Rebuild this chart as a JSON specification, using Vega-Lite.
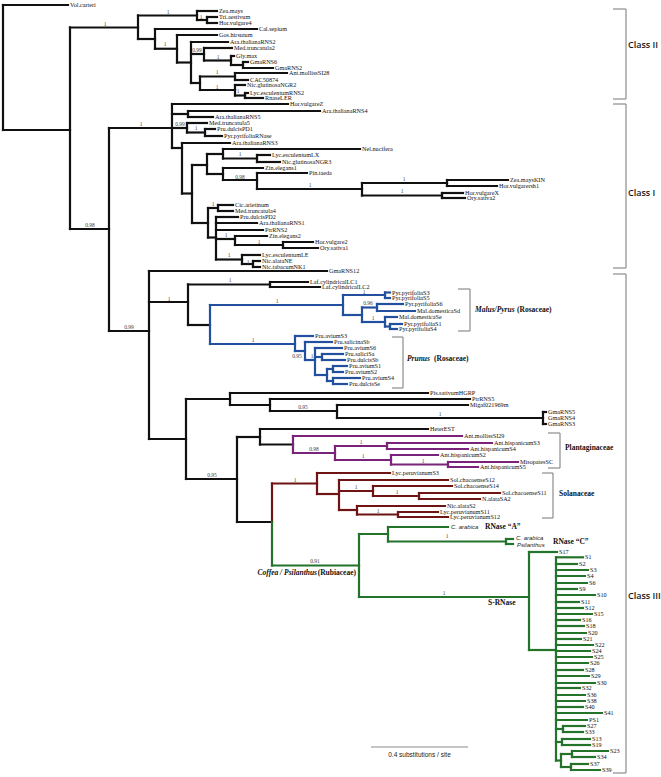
{
"$schema": "https://vega.github.io/schema/vega-lite/v6.json",
"width": 661, "height": 777, "padding": 0,
"autosize": {"type": "fit", "contains": "padding"},
"background": "white",
"config": {"view": {"stroke": null}},
"layer": [
{"data":{"values":[
{"x":613,"x2":626,"y":9,"y2":9},{"x":626,"x2":626,"y":9,"y2":99},{"x":613,"x2":626,"y":99,"y2":99},
{"x":613,"x2":626,"y":104,"y2":104},{"x":626,"x2":626,"y":104,"y2":268},{"x":613,"x2":626,"y":268,"y2":268},
{"x":613,"x2":626,"y":274,"y2":274},{"x":626,"x2":626,"y":274,"y2":773},{"x":613,"x2":626,"y":773,"y2":773},
{"x":458,"x2":470,"y":289,"y2":289},{"x":470,"x2":470,"y":289,"y2":331},{"x":458,"x2":470,"y":331,"y2":331},
{"x":392,"x2":403,"y":337,"y2":337},{"x":403,"x2":403,"y":337,"y2":388},{"x":392,"x2":403,"y":388,"y2":388},
{"x":548,"x2":560,"y":433,"y2":433},{"x":560,"x2":560,"y":433,"y2":468},{"x":548,"x2":560,"y":468,"y2":468},
{"x":542,"x2":553,"y":473,"y2":473},{"x":553,"x2":553,"y":473,"y2":518},{"x":542,"x2":553,"y":518,"y2":518},
{"x":371,"x2":468,"y":747,"y2":747}
]},
 "mark":{"type":"rule","color":"#8c8c8c","strokeWidth":1.2},
 "encoding":{"x":{"field":"x","type":"quantitative","scale":{"domain":[0,661],"nice":false,"zero":false},"axis":null},"x2":{"field":"x2"},
  "y":{"field":"y","type":"quantitative","scale":{"domain":[0,777],"reverse":true,"nice":false,"zero":false},"axis":null},"y2":{"field":"y2"}}},
{"data":{"values":[{"x":419.5,"y":755,"t":"0.4 substitutions / site"}]},
 "mark":{"type":"text","font":"Liberation Sans","fontSize":6.5,"color":"#222222","align":"center","baseline":"middle"},
 "encoding":{"x":{"field":"x","type":"quantitative"},"y":{"field":"y","type":"quantitative"},"text":{"field":"t"}}},
{"data":{"values":[
{"x":3,"x2":68,"y":5,"g":"k"},{"x":3,"x2":70,"y":130,"g":"k"},{"x":70,"x2":138,"y":27.5,"g":"k"},{"x":70,"x2":109,"y":229,"g":"k"},
{"x":138,"x2":197,"y":15.5,"g":"k"},{"x":138,"x2":155,"y":39,"g":"k"},{"x":197,"x2":217,"y":11,"g":"k"},{"x":197,"x2":207,"y":20,"g":"k"},
{"x":207,"x2":217,"y":17,"g":"k"},{"x":207,"x2":217,"y":23,"g":"k"},{"x":155,"x2":257,"y":29,"g":"k"},{"x":155,"x2":177,"y":48.75,"g":"k"},
{"x":177,"x2":217,"y":35,"g":"k"},{"x":177,"x2":191,"y":62.5,"g":"k"},{"x":191,"x2":228,"y":42,"g":"k"},{"x":191,"x2":204,"y":54,"g":"k"},
{"x":191,"x2":200,"y":83,"g":"k"},{"x":204,"x2":232,"y":48,"g":"k"},{"x":204,"x2":231,"y":60.5,"g":"k"},{"x":231,"x2":234,"y":56,"g":"k"},
{"x":231,"x2":243,"y":65,"g":"k"},{"x":243,"x2":248,"y":62,"g":"k"},{"x":243,"x2":273,"y":68,"g":"k"},{"x":200,"x2":235,"y":76.5,"g":"k"},
{"x":200,"x2":235,"y":90,"g":"k"},{"x":235,"x2":287,"y":73,"g":"k"},{"x":235,"x2":248,"y":80,"g":"k"},{"x":235,"x2":245,"y":85,"g":"k"},
{"x":235,"x2":245,"y":95.5,"g":"k"},{"x":245,"x2":248,"y":93,"g":"k"},{"x":245,"x2":263,"y":98,"g":"k"},
{"x":109,"x2":172,"y":128,"g":"k"},{"x":109,"x2":149,"y":331,"g":"k"},{"x":172,"x2":288,"y":104,"g":"k"},{"x":172,"x2":188,"y":114,"g":"k"},
{"x":172,"x2":187,"y":128,"g":"k"},{"x":172,"x2":182,"y":148,"g":"k"},{"x":188,"x2":320,"y":111,"g":"k"},{"x":188,"x2":213,"y":117,"g":"k"},
{"x":187,"x2":207,"y":123,"g":"k"},{"x":187,"x2":205,"y":132.5,"g":"k"},{"x":205,"x2":215,"y":129,"g":"k"},{"x":205,"x2":222,"y":136,"g":"k"},
{"x":182,"x2":230,"y":143,"g":"k"},{"x":182,"x2":192,"y":193.5,"g":"k"},{"x":192,"x2":207,"y":165,"g":"k"},{"x":192,"x2":208,"y":223,"g":"k"},
{"x":207,"x2":223,"y":154,"g":"k"},{"x":207,"x2":223,"y":174,"g":"k"},{"x":223,"x2":360,"y":149,"g":"k"},{"x":223,"x2":257,"y":158.5,"g":"k"},
{"x":257,"x2":270,"y":155,"g":"k"},{"x":257,"x2":280,"y":162,"g":"k"},{"x":223,"x2":263,"y":168,"g":"k"},{"x":223,"x2":257,"y":180,"g":"k"},
{"x":257,"x2":307,"y":173,"g":"k"},{"x":257,"x2":362,"y":189,"g":"k"},{"x":362,"x2":447,"y":183,"g":"k"},{"x":362,"x2":442,"y":195.5,"g":"k"},
{"x":447,"x2":508,"y":180,"g":"k"},{"x":447,"x2":497,"y":186,"g":"k"},{"x":442,"x2":463,"y":193,"g":"k"},{"x":442,"x2":465,"y":198,"g":"k"},
{"x":208,"x2":218,"y":208,"g":"k"},{"x":208,"x2":216,"y":237.5,"g":"k"},{"x":218,"x2":233,"y":205,"g":"k"},{"x":218,"x2":233,"y":211,"g":"k"},
{"x":216,"x2":238,"y":217,"g":"k"},{"x":216,"x2":257,"y":223,"g":"k"},{"x":216,"x2":263,"y":230,"g":"k"},{"x":216,"x2":235,"y":239,"g":"k"},
{"x":216,"x2":242,"y":259.5,"g":"k"},{"x":235,"x2":267,"y":236,"g":"k"},{"x":235,"x2":283,"y":245,"g":"k"},{"x":283,"x2":313,"y":242,"g":"k"},
{"x":283,"x2":318,"y":248,"g":"k"},{"x":242,"x2":260,"y":255,"g":"k"},{"x":242,"x2":253,"y":264,"g":"k"},{"x":253,"x2":260,"y":261,"g":"k"},
{"x":253,"x2":260,"y":267,"g":"k"},
{"x":149,"x2":327,"y":271,"g":"k"},{"x":149,"x2":188,"y":302,"g":"k"},{"x":149,"x2":186,"y":439,"g":"k"},{"x":188,"x2":270,"y":284.5,"g":"k"},
{"x":188,"x2":210,"y":325,"g":"k"},{"x":270,"x2":308,"y":282,"g":"k"},{"x":270,"x2":320,"y":287,"g":"k"},
{"x":210,"x2":343,"y":305,"g":"b"},{"x":210,"x2":295,"y":344,"g":"b"},{"x":343,"x2":385,"y":295,"g":"b"},{"x":343,"x2":362,"y":315,"g":"b"},
{"x":385,"x2":390,"y":292.5,"g":"b"},{"x":385,"x2":390,"y":298,"g":"b"},{"x":362,"x2":377,"y":307.5,"g":"b"},{"x":362,"x2":385,"y":322,"g":"b"},
{"x":377,"x2":403,"y":304,"g":"b"},{"x":377,"x2":415,"y":311,"g":"b"},{"x":385,"x2":397,"y":317,"g":"b"},{"x":385,"x2":390,"y":326.5,"g":"b"},
{"x":390,"x2":402,"y":324,"g":"b"},{"x":390,"x2":397,"y":329,"g":"b"},{"x":295,"x2":313,"y":336,"g":"b"},{"x":295,"x2":305,"y":351,"g":"b"},
{"x":305,"x2":332,"y":342,"g":"b"},{"x":305,"x2":315,"y":360,"g":"b"},{"x":315,"x2":342,"y":348,"g":"b"},{"x":315,"x2":322,"y":357,"g":"b"},
{"x":315,"x2":327,"y":375,"g":"b"},{"x":322,"x2":343,"y":354,"g":"b"},{"x":322,"x2":345,"y":360,"g":"b"},{"x":327,"x2":333,"y":369,"g":"b"},
{"x":327,"x2":333,"y":381,"g":"b"},{"x":333,"x2":347,"y":366,"g":"b"},{"x":333,"x2":343,"y":372,"g":"b"},{"x":333,"x2":360,"y":378,"g":"b"},
{"x":333,"x2":347,"y":384,"g":"b"},
{"x":186,"x2":230,"y":399,"g":"k"},{"x":186,"x2":237,"y":479,"g":"k"},{"x":230,"x2":428,"y":393,"g":"k"},{"x":230,"x2":270,"y":405,"g":"k"},
{"x":270,"x2":470,"y":399,"g":"k"},{"x":270,"x2":337,"y":411,"g":"k"},{"x":337,"x2":468,"y":405,"g":"k"},{"x":337,"x2":543,"y":418,"g":"k"},
{"x":543,"x2":546,"y":412,"g":"k"},{"x":543,"x2":546,"y":424,"g":"k"},{"x":237,"x2":260,"y":437,"g":"k"},{"x":237,"x2":272,"y":522,"g":"k"},
{"x":260,"x2":428,"y":429,"g":"k"},{"x":260,"x2":293,"y":444.5,"g":"k"},
{"x":293,"x2":462,"y":436,"g":"p"},{"x":293,"x2":335,"y":453,"g":"p"},{"x":335,"x2":387,"y":446,"g":"p"},{"x":335,"x2":391,"y":460,"g":"p"},
{"x":387,"x2":492,"y":443,"g":"p"},{"x":387,"x2":468,"y":449,"g":"p"},{"x":391,"x2":438,"y":455,"g":"p"},{"x":391,"x2":448,"y":464.5,"g":"p"},
{"x":448,"x2":518,"y":462,"g":"p"},{"x":448,"x2":478,"y":467,"g":"p"},
{"x":272,"x2":317,"y":483.5,"g":"r"},{"x":317,"x2":390,"y":473,"g":"r"},{"x":317,"x2":339,"y":494,"g":"r"},{"x":339,"x2":448,"y":480,"g":"r"},
{"x":339,"x2":373,"y":491,"g":"r"},{"x":339,"x2":357,"y":510,"g":"r"},{"x":373,"x2":452,"y":486,"g":"r"},{"x":373,"x2":419,"y":496,"g":"r"},
{"x":419,"x2":500,"y":493,"g":"r"},{"x":419,"x2":480,"y":499,"g":"r"},{"x":357,"x2":445,"y":506,"g":"r"},{"x":357,"x2":398,"y":514.5,"g":"r"},
{"x":398,"x2":438,"y":512,"g":"r"},{"x":398,"x2":448,"y":517,"g":"r"},
{"x":272,"x2":359,"y":565.5,"g":"g"},{"x":359,"x2":388,"y":534,"g":"g"},{"x":359,"x2":529,"y":597,"g":"g"},{"x":388,"x2":448,"y":527,"g":"g"},
{"x":388,"x2":506,"y":541.5,"g":"g"},{"x":506,"x2":513,"y":539,"g":"g"},{"x":506,"x2":513,"y":544,"g":"g"},{"x":529,"x2":557,"y":552,"g":"g"},
{"x":529,"x2":556,"y":650,"g":"g"},
{"x":556,"x2":583,"y":557.3,"g":"g"},{"x":556,"x2":577,"y":564,"g":"g"},{"x":556,"x2":588,"y":570,"g":"g"},{"x":556,"x2":585,"y":576,"g":"g"},
{"x":556,"x2":587,"y":583,"g":"g"},{"x":556,"x2":577,"y":589,"g":"g"},{"x":556,"x2":595,"y":595,"g":"g"},{"x":556,"x2":579,"y":602,"g":"g"},
{"x":556,"x2":583,"y":608,"g":"g"},{"x":556,"x2":592,"y":614,"g":"g"},{"x":556,"x2":580,"y":620,"g":"g"},{"x":556,"x2":584,"y":626,"g":"g"},
{"x":556,"x2":586,"y":633,"g":"g"},{"x":556,"x2":581,"y":639,"g":"g"},{"x":556,"x2":593,"y":645,"g":"g"},{"x":556,"x2":590,"y":651,"g":"g"},
{"x":556,"x2":592,"y":657,"g":"g"},{"x":556,"x2":588,"y":663,"g":"g"},{"x":556,"x2":583,"y":670,"g":"g"},{"x":556,"x2":589,"y":676,"g":"g"},
{"x":556,"x2":595,"y":683,"g":"g"},{"x":556,"x2":580,"y":688,"g":"g"},{"x":556,"x2":585,"y":695,"g":"g"},{"x":556,"x2":585,"y":701,"g":"g"},
{"x":556,"x2":583,"y":707,"g":"g"},{"x":556,"x2":602,"y":713,"g":"g"},{"x":556,"x2":587,"y":720,"g":"g"},
{"x":556,"x2":563,"y":729,"g":"g"},{"x":563,"x2":585,"y":726,"g":"g"},{"x":563,"x2":583,"y":732,"g":"g"},{"x":556,"x2":562,"y":742,"g":"g"},
{"x":562,"x2":590,"y":739,"g":"g"},{"x":562,"x2":590,"y":745,"g":"g"},{"x":556,"x2":561,"y":760.5,"g":"g"},{"x":561,"x2":572,"y":754,"g":"g"},
{"x":572,"x2":608,"y":751,"g":"g"},{"x":572,"x2":595,"y":757,"g":"g"},{"x":561,"x2":571,"y":767,"g":"g"},{"x":571,"x2":588,"y":764,"g":"g"},
{"x":571,"x2":600,"y":770,"g":"g"}
]},
 "mark":{"type":"rule","strokeWidth":2.2,"strokeCap":"square"},
 "encoding":{"x":{"field":"x","type":"quantitative"},"x2":{"field":"x2"},
  "y":{"field":"y","type":"quantitative"},
  "color":{"field":"g","type":"nominal","scale":{"domain":["k","b","p","r","g"],"range":["#111111","#23509e","#7a237a","#6e1414","#23732a"]},"legend":null}}},
{"data":{"values":[
{"x":3,"y":5,"y2":130,"g":"k"},{"x":70,"y":27.5,"y2":229,"g":"k"},{"x":138,"y":15.5,"y2":39,"g":"k"},{"x":197,"y":11,"y2":20,"g":"k"},
{"x":207,"y":17,"y2":23,"g":"k"},{"x":155,"y":29,"y2":48.75,"g":"k"},{"x":177,"y":35,"y2":62.5,"g":"k"},{"x":191,"y":42,"y2":83,"g":"k"},
{"x":204,"y":48,"y2":60.5,"g":"k"},{"x":231,"y":56,"y2":65,"g":"k"},{"x":243,"y":62,"y2":68,"g":"k"},{"x":200,"y":76.5,"y2":90,"g":"k"},
{"x":235,"y":73,"y2":80,"g":"k"},{"x":235,"y":85,"y2":95.5,"g":"k"},{"x":245,"y":93,"y2":98,"g":"k"},
{"x":109,"y":128,"y2":331,"g":"k"},{"x":172,"y":104,"y2":148,"g":"k"},{"x":188,"y":111,"y2":117,"g":"k"},{"x":187,"y":123,"y2":132.5,"g":"k"},
{"x":205,"y":129,"y2":136,"g":"k"},{"x":182,"y":143,"y2":193.5,"g":"k"},{"x":192,"y":165,"y2":223,"g":"k"},{"x":207,"y":154,"y2":174,"g":"k"},
{"x":223,"y":149,"y2":158.5,"g":"k"},{"x":257,"y":155,"y2":162,"g":"k"},{"x":223,"y":168,"y2":180,"g":"k"},{"x":257,"y":173,"y2":189,"g":"k"},
{"x":362,"y":183,"y2":195.5,"g":"k"},{"x":447,"y":180,"y2":186,"g":"k"},{"x":442,"y":193,"y2":198,"g":"k"},{"x":208,"y":208,"y2":237.5,"g":"k"},
{"x":218,"y":205,"y2":211,"g":"k"},{"x":216,"y":217,"y2":259.5,"g":"k"},{"x":235,"y":236,"y2":245,"g":"k"},{"x":283,"y":242,"y2":248,"g":"k"},
{"x":242,"y":255,"y2":264,"g":"k"},{"x":253,"y":261,"y2":267,"g":"k"},
{"x":149,"y":271,"y2":439,"g":"k"},{"x":188,"y":284.5,"y2":325,"g":"k"},{"x":270,"y":282,"y2":287,"g":"k"},{"x":186,"y":399,"y2":479,"g":"k"},
{"x":230,"y":393,"y2":405,"g":"k"},{"x":270,"y":399,"y2":411,"g":"k"},{"x":337,"y":405,"y2":418,"g":"k"},{"x":543,"y":412,"y2":424,"g":"k"},
{"x":237,"y":437,"y2":522,"g":"k"},{"x":260,"y":429,"y2":444.5,"g":"k"},
{"x":210,"y":305,"y2":344,"g":"b"},{"x":343,"y":295,"y2":315,"g":"b"},{"x":385,"y":292.5,"y2":298,"g":"b"},{"x":362,"y":307.5,"y2":322,"g":"b"},
{"x":377,"y":304,"y2":311,"g":"b"},{"x":385,"y":317,"y2":326.5,"g":"b"},{"x":390,"y":324,"y2":329,"g":"b"},{"x":295,"y":336,"y2":351,"g":"b"},
{"x":305,"y":342,"y2":360,"g":"b"},{"x":315,"y":348,"y2":375,"g":"b"},{"x":322,"y":354,"y2":360,"g":"b"},{"x":327,"y":369,"y2":381,"g":"b"},
{"x":333,"y":366,"y2":372,"g":"b"},{"x":333,"y":378,"y2":384,"g":"b"},
{"x":293,"y":436,"y2":453,"g":"p"},{"x":335,"y":446,"y2":460,"g":"p"},{"x":387,"y":443,"y2":449,"g":"p"},{"x":391,"y":455,"y2":464.5,"g":"p"},
{"x":448,"y":462,"y2":467,"g":"p"},
{"x":272,"y":483.5,"y2":522,"g":"r"},{"x":317,"y":473,"y2":494,"g":"r"},{"x":339,"y":480,"y2":510,"g":"r"},{"x":373,"y":486,"y2":496,"g":"r"},
{"x":419,"y":493,"y2":499,"g":"r"},{"x":357,"y":506,"y2":514.5,"g":"r"},{"x":398,"y":512,"y2":517,"g":"r"},
{"x":272,"y":522,"y2":565.5,"g":"g"},{"x":359,"y":534,"y2":597,"g":"g"},{"x":388,"y":527,"y2":541.5,"g":"g"},{"x":506,"y":539,"y2":544,"g":"g"},
{"x":529,"y":552,"y2":650,"g":"g"},{"x":556,"y":557.3,"y2":760.5,"g":"g"},{"x":563,"y":726,"y2":732,"g":"g"},{"x":562,"y":739,"y2":745,"g":"g"},
{"x":561,"y":754,"y2":767,"g":"g"},{"x":572,"y":751,"y2":757,"g":"g"},{"x":571,"y":764,"y2":770,"g":"g"}
]},
 "mark":{"type":"rule","strokeWidth":2.2,"strokeCap":"square"},
 "encoding":{"x":{"field":"x","type":"quantitative"},
  "y":{"field":"y","type":"quantitative"},"y2":{"field":"y2"},
  "color":{"field":"g","type":"nominal","legend":null}}},
{"data":{"values":[
{"x":68,"y":5,"t":"Vol.carteri"},{"x":217,"y":11,"t":"Zea.mays"},{"x":217,"y":17,"t":"Tri.aestivum"},{"x":217,"y":23,"t":"Hor.vulgare4"},
{"x":257,"y":29,"t":"Cal.sepium"},{"x":217,"y":35,"t":"Gos.hirsutum"},{"x":228,"y":42,"t":"Ara.thalianaRNS2"},{"x":232,"y":48,"t":"Med.truncatula2"},
{"x":234,"y":56,"t":"Gly.max"},{"x":248,"y":62,"t":"GmaRNS6"},{"x":273,"y":68,"t":"GmaRNS2"},{"x":287,"y":73,"t":"Ant.mollissSI28"},
{"x":248,"y":80,"t":"CAC50874"},{"x":245,"y":85,"t":"Nic.glutinosaNGR2"},{"x":248,"y":93,"t":"Lyc.esculentumRNS2"},{"x":263,"y":98,"t":"RnaseLER"},
{"x":288,"y":104,"t":"Hor.vulgareZ"},{"x":320,"y":111,"t":"Ara.thalianaRNS4"},{"x":213,"y":117,"t":"Ara.thalianaRNS5"},{"x":207,"y":123,"t":"Med.truncatula5"},
{"x":215,"y":129,"t":"Pru.dulcisPD1"},{"x":222,"y":136,"t":"Pyr.pyrifoliaRNase"},{"x":230,"y":143,"t":"Ara.thalianaRNS3"},{"x":360,"y":149,"t":"Nel.nucifera"},
{"x":270,"y":155,"t":"Lyc.esculentumLX"},{"x":280,"y":162,"t":"Nic.glutinosaNGR3"},{"x":263,"y":168,"t":"Zin.elegans1"},{"x":307,"y":173,"t":"Pin.taeda"},
{"x":508,"y":180,"t":"Zea.maysKIN"},{"x":497,"y":186,"t":"Hor.vulgarersh1"},{"x":463,"y":193,"t":"Hor.vulgareX"},{"x":465,"y":198,"t":"Ory.sativa2"},
{"x":233,"y":205,"t":"Cic.arietinum"},{"x":233,"y":211,"t":"Med.truncatula4"},{"x":238,"y":217,"t":"Pru.dulcisPD2"},{"x":257,"y":223,"t":"Ara.thalianaRNS1"},
{"x":263,"y":230,"t":"PtrRNS2"},{"x":267,"y":236,"t":"Zin.elegans2"},{"x":313,"y":242,"t":"Hor.vulgare2"},{"x":318,"y":248,"t":"Ory.sativa1"},
{"x":260,"y":255,"t":"Lyc.esculentumLE"},{"x":260,"y":261,"t":"Nic.alataNE"},{"x":260,"y":267,"t":"Nic.tabacumNK1"},
{"x":327,"y":271,"t":"GmaRNS12"},{"x":308,"y":282,"t":"Laf.cylindricalLC1"},{"x":320,"y":287,"t":"Laf.cylindricalLC2"},
{"x":390,"y":292.5,"t":"Pyr.pyrifoliaS3"},{"x":390,"y":298,"t":"Pyr.pyrifoliaS5"},{"x":403,"y":304,"t":"Pyr.pyrifoliaS6"},{"x":415,"y":311,"t":"Mal.domesticaSd"},
{"x":397,"y":317,"t":"Mal.domesticaSe"},{"x":402,"y":324,"t":"Pyr.pyrifoliaS1"},{"x":397,"y":329,"t":"Pyr.pyrifoliaS4"},
{"x":313,"y":336,"t":"Pru.aviumS3"},{"x":332,"y":342,"t":"Pru.salicinaSb"},{"x":342,"y":348,"t":"Pru.aviumS6"},{"x":343,"y":354,"t":"Pru.saliciSa"},
{"x":345,"y":360,"t":"Pru.dulcisSb"},{"x":347,"y":366,"t":"Pru.aviumS1"},{"x":343,"y":372,"t":"Pru.aviumS2"},{"x":360,"y":378,"t":"Pru.aviumS4"},
{"x":347,"y":384,"t":"Pru.dulcisSe"},
{"x":428,"y":393,"t":"Pis.sativumHGRP"},{"x":470,"y":399,"t":"PtrRNS5"},{"x":468,"y":405,"t":"Migaf021969m"},{"x":546,"y":412,"t":"GmaRNS5"},
{"x":546,"y":418,"t":"GmaRNS4"},{"x":546,"y":424,"t":"GmaRNS3"},{"x":428,"y":429,"t":"HeterEST"},{"x":462,"y":436,"t":"Ant.mollissSI29"},
{"x":492,"y":443,"t":"Ant.hispanicumS3"},{"x":468,"y":449,"t":"Ant.hispanicumS4"},{"x":438,"y":455,"t":"Ant.hispanicumS2"},{"x":518,"y":462,"t":"MisopatesSC"},
{"x":478,"y":467,"t":"Ant.hispanicumS5"},{"x":390,"y":473,"t":"Lyc.peruvianumS3"},{"x":448,"y":480,"t":"Sol.chacoenseS12"},{"x":452,"y":486,"t":"Sol.chacoenseS14"},
{"x":500,"y":493,"t":"Sol.chacoenseS11"},{"x":480,"y":499,"t":"N.alataSA2"},{"x":445,"y":506,"t":"Nic.alataS2"},{"x":438,"y":512,"t":"Lyc.peruvianumS11"},
{"x":448,"y":517,"t":"Lyc.peruvianumS12"},{"x":557,"y":552,"t":"S17"},
{"x":583,"y":557.3,"t":"S1"},{"x":577,"y":564,"t":"S2"},{"x":588,"y":570,"t":"S3"},{"x":585,"y":576,"t":"S4"},{"x":587,"y":583,"t":"S6"},
{"x":577,"y":589,"t":"S9"},{"x":595,"y":595,"t":"S10"},{"x":579,"y":602,"t":"S11"},{"x":583,"y":608,"t":"S12"},{"x":592,"y":614,"t":"S15"},
{"x":580,"y":620,"t":"S16"},{"x":584,"y":626,"t":"S18"},{"x":586,"y":633,"t":"S20"},{"x":581,"y":639,"t":"S21"},{"x":593,"y":645,"t":"S22"},
{"x":590,"y":651,"t":"S24"},{"x":592,"y":657,"t":"S25"},{"x":588,"y":663,"t":"S26"},{"x":583,"y":670,"t":"S28"},{"x":589,"y":676,"t":"S29"},
{"x":595,"y":683,"t":"S30"},{"x":580,"y":688,"t":"S32"},{"x":585,"y":695,"t":"S36"},{"x":585,"y":701,"t":"S38"},{"x":583,"y":707,"t":"S40"},
{"x":602,"y":713,"t":"S41"},{"x":587,"y":720,"t":"PS1"},{"x":585,"y":726,"t":"S27"},{"x":583,"y":732,"t":"S33"},{"x":590,"y":739,"t":"S13"},
{"x":590,"y":745,"t":"S19"},{"x":608,"y":751,"t":"S23"},{"x":595,"y":757,"t":"S34"},{"x":588,"y":764,"t":"S37"},{"x":600,"y":770,"t":"S39"}
]},
 "mark":{"type":"text","font":"Liberation Serif","fontSize":6.2,"color":"#111111","align":"left","baseline":"middle","dx":2},
 "encoding":{"x":{"field":"x","type":"quantitative"},"y":{"field":"y","type":"quantitative"},"text":{"field":"t"}}},
{"data":{"values":[
{"x":105,"y":24,"t":"1"},{"x":168,"y":12,"t":"1"},{"x":201,"y":17,"t":"1"},{"x":165,"y":44,"t":"1"},{"x":197,"y":50,"t":"0.99"},
{"x":218,"y":57,"t":"1"},{"x":217,"y":72,"t":"1"},{"x":217,"y":87,"t":"1"},{"x":238,"y":91,"t":"1"},{"x":90,"y":225,"t":"0.98"},
{"x":141,"y":124,"t":"1"},{"x":180,"y":124,"t":"0.99"},{"x":196,"y":128,"t":"1"},{"x":240,"y":154,"t":"1"},{"x":240,"y":177,"t":"0.98"},
{"x":310,"y":185,"t":"1"},{"x":404,"y":179,"t":"1"},{"x":402,"y":191,"t":"1"},{"x":213,"y":204,"t":"1"},{"x":226,"y":235,"t":"1"},
{"x":259,"y":242,"t":"1"},{"x":229,"y":255,"t":"1"},{"x":248,"y":262,"t":"1"},{"x":129,"y":327,"t":"0.99"},{"x":169,"y":299,"t":"1"},
{"x":230,"y":280,"t":"1"},{"x":277,"y":301,"t":"1"},{"x":364,"y":292,"t":"1"},{"x":368,"y":303,"t":"0.96"},{"x":373,"y":318,"t":"1"},
{"x":253,"y":340,"t":"1"},{"x":297,"y":356,"t":"0.95"},{"x":312,"y":356,"t":"1"},{"x":303,"y":407,"t":"0.95"},{"x":440,"y":414,"t":"1"},
{"x":212,"y":475,"t":"0.95"},{"x":314,"y":449,"t":"0.98"},{"x":361,"y":442,"t":"1"},{"x":363,"y":456,"t":"1"},{"x":423,"y":461,"t":"1"},
{"x":295,"y":480,"t":"1"},{"x":356,"y":487,"t":"1"},{"x":397,"y":492,"t":"1"},{"x":378,"y":511,"t":"1"},{"x":315,"y":561,"t":"0.91"},
{"x":447,"y":536,"t":"1"},{"x":444,"y":593,"t":"1"}
]},
 "mark":{"type":"text","font":"Liberation Serif","fontSize":5.5,"color":"#444444","align":"center","baseline":"middle"},
 "encoding":{"x":{"field":"x","type":"quantitative"},"y":{"field":"y","type":"quantitative"},"text":{"field":"t"}}},
{"data":{"values":[
{"x":517,"y":310,"t":"(Rosaceae)"},{"x":434,"y":359,"t":"(Rosaceae)"},{"x":565,"y":448,"t":"Plantaginaceae"},{"x":559,"y":494,"t":"Solanaceae"},
{"x":485,"y":527,"t":"RNase “A”"},{"x":553,"y":542,"t":"RNase “C”"},{"x":488,"y":603,"t":"S-RNase"}
]},
 "mark":{"type":"text","font":"Liberation Serif","fontSize":7.5,"fontWeight":"bold","color":"#111111","align":"left","baseline":"middle"},
 "encoding":{"x":{"field":"x","type":"quantitative"},"y":{"field":"y","type":"quantitative"},"text":{"field":"t"}}},
{"data":{"values":[{"x":475,"y":310,"t":"Malus/Pyrus"},{"x":407,"y":359,"t":"Prunus"}]},
 "mark":{"type":"text","font":"Liberation Serif","fontSize":7.5,"fontWeight":"bold","fontStyle":"italic","color":"#111111","align":"left","baseline":"middle"},
 "encoding":{"x":{"field":"x","type":"quantitative"},"y":{"field":"y","type":"quantitative"},"text":{"field":"t"}}},
{"data":{"values":[{"x":317,"y":573,"t":"Coffea / Psilanthus"}]},
 "mark":{"type":"text","font":"Liberation Serif","fontSize":7.5,"fontWeight":"bold","fontStyle":"italic","color":"#111111","align":"right","baseline":"middle"},
 "encoding":{"x":{"field":"x","type":"quantitative"},"y":{"field":"y","type":"quantitative"},"text":{"field":"t"}}},
{"data":{"values":[{"x":356,"y":573,"t":"(Rubiaceae)"}]},
 "mark":{"type":"text","font":"Liberation Serif","fontSize":7.5,"fontWeight":"bold","color":"#111111","align":"right","baseline":"middle"},
 "encoding":{"x":{"field":"x","type":"quantitative"},"y":{"field":"y","type":"quantitative"},"text":{"field":"t"}}},
{"data":{"values":[{"x":451,"y":527,"t":"C. arabica"},{"x":516,"y":538,"t":"C. arabica"},{"x":517,"y":545,"t":"Psilanthus"}]},
 "mark":{"type":"text","font":"Liberation Sans","fontSize":6,"fontStyle":"italic","color":"#222222","align":"left","baseline":"middle"},
 "encoding":{"x":{"field":"x","type":"quantitative"},"y":{"field":"y","type":"quantitative"},"text":{"field":"t"}}},
{"data":{"values":[{"x":628,"y":45,"t":"Class II"},{"x":628,"y":193,"t":"Class I"},{"x":628,"y":596,"t":"Class III"}]},
 "mark":{"type":"text","font":"Open Sans","fontSize":9,"fontWeight":600,"color":"#1a1a1a","align":"left","baseline":"middle"},
 "encoding":{"x":{"field":"x","type":"quantitative"},"y":{"field":"y","type":"quantitative"},"text":{"field":"t"}}}
]
}
